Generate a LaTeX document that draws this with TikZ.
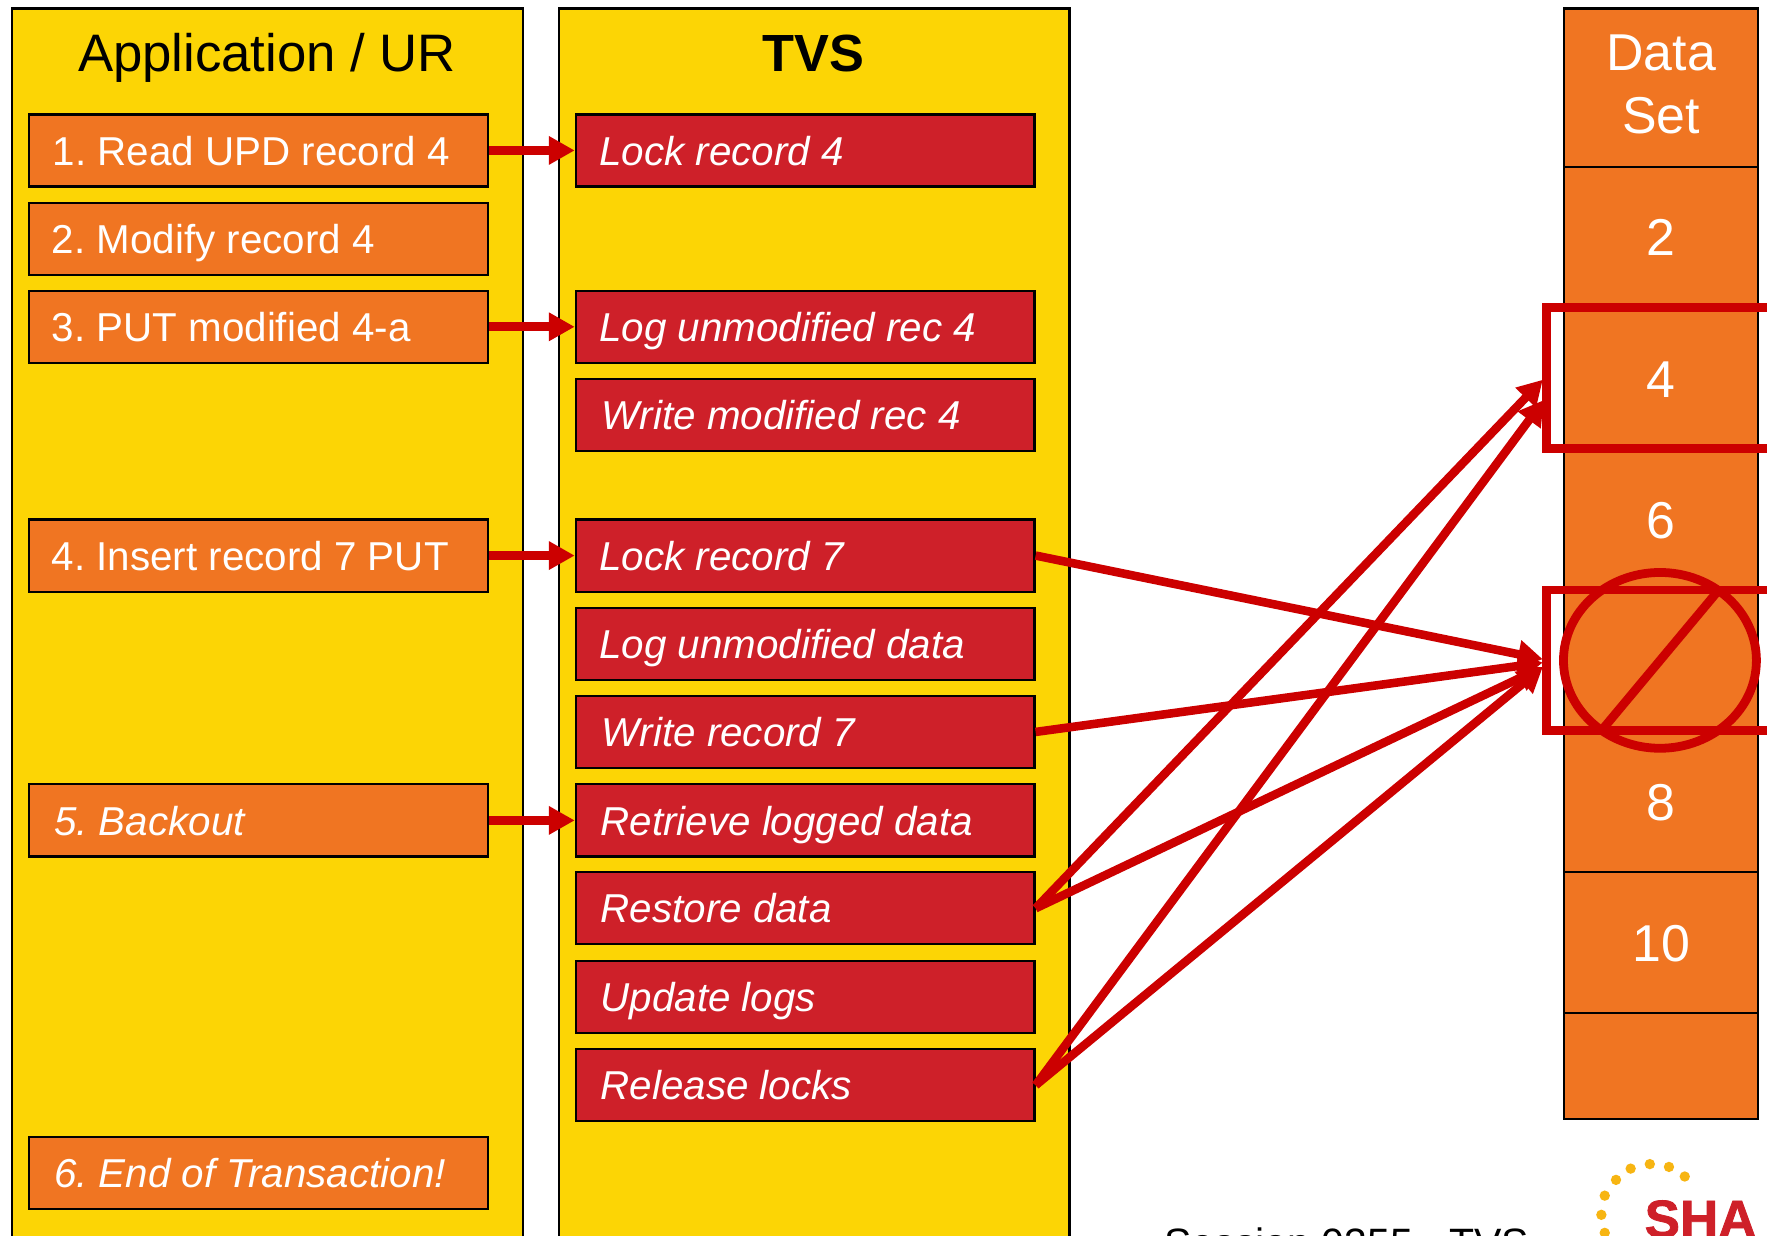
\documentclass[tikz,border=0pt]{standalone}
\usepackage{fontspec}
\setmainfont{Liberation Sans}
\newfontfamily\logofont[FakeBold=1.5]{Liberation Sans Bold}
\usetikzlibrary{arrows.meta}
\frenchspacing
\definecolor{panelY}{HTML}{FCD505}
\definecolor{boxO}{HTML}{F07522}
\definecolor{boxR}{HTML}{CE2029}
\definecolor{lineR}{HTML}{CC0000}
\definecolor{dotY}{HTML}{F7B512}
\newcommand{\boxtext}[2]{\makebox[203.5pt][l]{\hspace*{#1pt}#2}}
\tikzset{
  panel/.style={draw=black,line width=1pt,fill=panelY},
  obox/.style={draw=black,line width=1pt,fill=boxO,minimum width=203.5pt,minimum height=32pt,inner sep=0pt,text=white,text height=17pt,text depth=4pt,font=\fontsize{17.9}{20}\selectfont},
  oibox/.style={obox,font=\fontsize{17.9}{20}\selectfont\itshape},
  rbox/.style={obox,fill=boxR,font=\fontsize{17.9}{20}\selectfont\itshape},
  cell/.style={draw=black,line width=1pt,fill=boxO},
  head/.style={font=\fontsize{23.4}{28}\selectfont,text=black,inner sep=0pt,anchor=base},
  ctext/.style={text=white,font=\fontsize{23}{28.25}\selectfont,inner sep=0pt,align=center},
  bigarrow/.style={draw=lineR,line width=3.8pt,-{Triangle[length=11pt,width=12pt]}},
  thinarrow/.style={draw=lineR,line width=4pt,-{Triangle[length=11.5pt,width=12pt]}},
  frame/.style={draw=lineR,line width=3.9pt},
  logodot/.style={circle,fill=dotY,inner sep=0pt,minimum size=4.6pt}
}
\begin{document}
\begin{tikzpicture}[x=0.5pt,y=-0.5pt]
\useasboundingbox (0,0) rectangle (1568,1096);
\clip (0,0) rectangle (1568,1096);
\fill[white] (0,0) rectangle (1568,1096);
\draw[panel] (10.5,7.5) rectangle (464,1110);
\draw[panel] (496,7.5) rectangle (949,1110);
\node[head] (h1) at (237,63.5) {Application / UR};
\node[head,font=\fontsize{23.2}{28}\selectfont\bfseries] (h2) at (722,63.5) {TVS};
% left boxes
\foreach \n/\y/\o/\t in {a1/133.5/10.5/{1. Read UPD record 4},a2/212/10/{2. Modify record 4},a3/290/10/{3. PUT modified 4-a},a4/493/10/{4. Insert record 7 PUT}}{
  \node[obox] (\n) at (229.5,\y) {\boxtext{\o}{\t}};
}
\node[oibox] (a5) at (229.5,728) {\boxtext{11}{5. Backout}};
\node[oibox] (a6) at (229.5,1041) {\boxtext{11}{6. End of Transaction!}};
% right boxes
\foreach \n/\y/\o/\t in {r1/133.5/10.5/{Lock record 4},r2/290/10.5/{Log unmodified rec 4},r3/368/11.5/{Write modified rec 4},r4/493/10.5/{Lock record 7},r5/571.5/10.5/{Log unmodified data},r6/649.5/11.5/{Write record 7},r7/728/11/{Retrieve logged data},r8/806/11/{Restore data},r9/884.5/11/{Update logs},r10/963/11/{Release locks}}{
  \node[rbox] (\n) at (714.5,\y) {\boxtext{\o}{\t}};
}
% data set column
\draw[cell] (1388,7.5) rectangle (1560,148);
\draw[cell] (1388,148) rectangle (1560,273);
\draw[cell] (1388,273) rectangle (1560,398);
\draw[cell] (1388,398) rectangle (1560,523.5);
\draw[cell] (1388,523.5) rectangle (1560,648.5);
\draw[cell] (1388,648.5) rectangle (1560,774);
\draw[cell] (1388,774) rectangle (1560,899);
\draw[cell] (1388,899) rectangle (1560,993);
\node[ctext] (ds) at (1474,75) {Data\\Set};
\foreach \n/\y/\t in {d2/211/2,d4/337/4,d6/462/6,d8/712/8,d10/837/10}{
  \node[ctext] (\n) at (1474,\y) {\t};
}
% short arrows
\foreach \a/\b in {a1/r1,a3/r2,a4/r4,a5/r7}{
  \draw[thinarrow] (\a.east) -- (\b.west);
}
% targets
\coordinate (t4a) at (1369,337);
\coordinate (t4b) at (1370,355);
\coordinate (t7a) at (1369,585);
\coordinate (t7b) at (1369,588);
\coordinate (t7c) at (1369,592);
\draw[bigarrow] (r4.east) -- (t7a);
\draw[bigarrow] (r6.east) -- (t7b);
\draw[bigarrow] (r8.east) -- (t7c);
\draw[bigarrow] (r10.east) -- (t7c);
\draw[bigarrow] (r8.east) -- (t4a);
\draw[bigarrow] (r10.east) -- (t4b);
% frames
\draw[frame] (1600,273) -- (1372,273) -- (1372,398) -- (1600,398);
\draw[frame] (1600,523.5) -- (1372,523.5) -- (1372,648.5) -- (1600,648.5);
\draw[frame] (1473,586) ellipse [x radius=85.6,y radius=78];
\coordinate (s1) at (1423,646);
\coordinate (s2) at (1524,525);
\draw[frame] (s1) -- (s2);
% footer
\node[anchor=base west,inner sep=0pt,font=\fontsize{18.2}{22}\selectfont] (foot) at (1033,1116) {Session 0355 - TVS};
% logo
\foreach \x/\y [count=\i] in {1495/1044,1481/1035.5,1464/1033,1447/1037,1434/1047,1424/1061,1421/1078,1424/1094}{
  \node[logodot] (dot\i) at (\x,\y) {};
}
\node[anchor=base west,inner sep=0pt,text=boxR,font=\logofont\fontsize{23.5}{26}\selectfont] (logo) at (1459,1098) {SHA};
\end{tikzpicture}
\end{document}
